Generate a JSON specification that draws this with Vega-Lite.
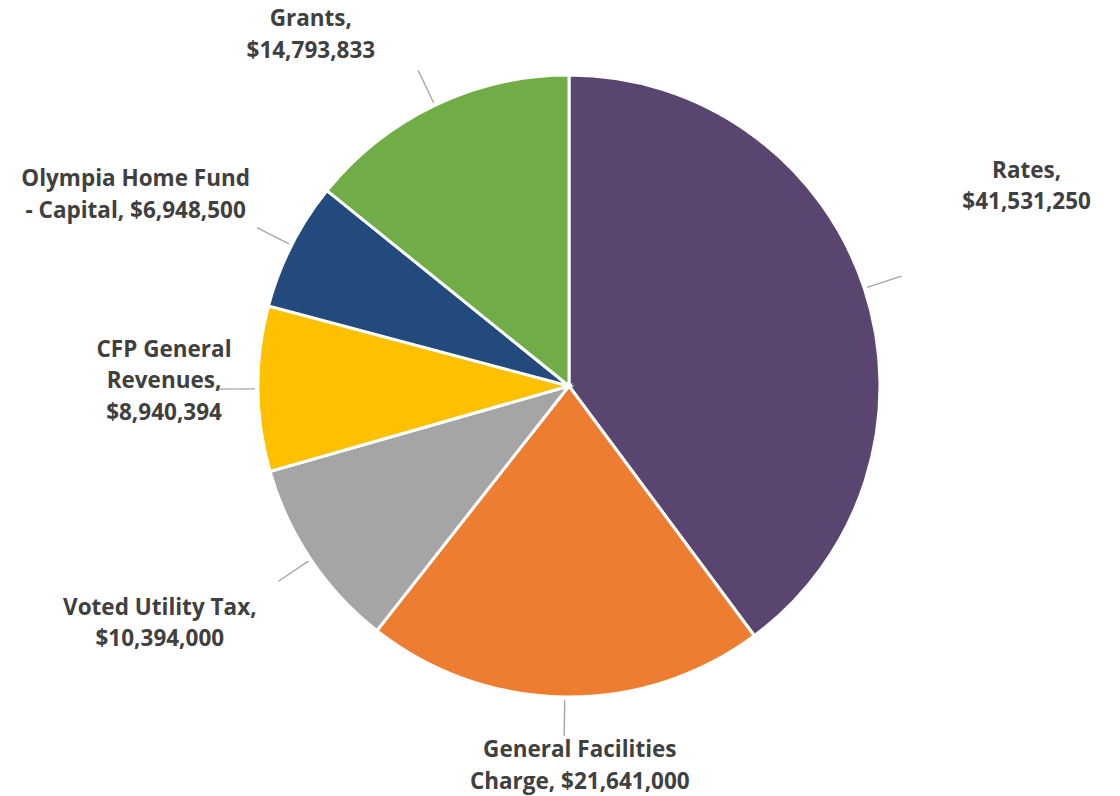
{
  "$schema": "https://vega.github.io/schema/vega-lite/v6.json",
  "autosize": {"type": "none"},
  "padding": {"left": 19, "top": 6, "right": 1, "bottom": 30},
  "width": 1100,
  "height": 760,
  "background": "white",
  "config": {"view": {"stroke": null}},
  "data": {
    "values": [
      {"cat": "Rates", "order": 1, "value": 41531250, "label": ["Rates,", "$41,531,250"]},
      {"cat": "General Facilities Charge", "order": 2, "value": 21641000, "label": ["General  Facilities", "Charge,  $21,641,000"]},
      {"cat": "Voted Utility Tax", "order": 3, "value": 10394000, "label": ["Voted Utility Tax,", "$10,394,000"]},
      {"cat": "CFP General Revenues", "order": 4, "value": 8940394, "label": ["CFP General", "Revenues,", "$8,940,394"]},
      {"cat": "Olympia Home Fund - Capital", "order": 5, "value": 6948500, "label": ["Olympia Home Fund", "- Capital,  $6,948,500"]},
      {"cat": "Grants", "order": 6, "value": 14793833, "label": ["Grants,", "$14,793,833"]}
    ]
  },
  "encoding": {
    "theta": {"field": "value", "type": "quantitative", "stack": true},
    "order": {"field": "order", "type": "quantitative"}
  },
  "layer": [
    {
      "mark": {"type": "arc", "radius": 311, "stroke": "white", "strokeWidth": 3},
      "encoding": {
        "color": {
          "field": "cat",
          "type": "nominal",
          "legend": null,
          "scale": {
            "domain": ["Rates", "General Facilities Charge", "Voted Utility Tax", "CFP General Revenues", "Olympia Home Fund - Capital", "Grants"],
            "range": ["#5A4571", "#ED7D31", "#A5A5A5", "#FFC000", "#234A7D", "#70AD47"]
          }
        }
      }
    },
    {
      "mark": {"type": "arc", "radius": 350, "radius2": 314, "padAngle": 3.14159, "filled": false, "stroke": "#A6A6A6", "strokeWidth": 1.4}
    },
    {
      "mark": {"type": "text", "radius": 482, "dy": -64, "font": "Open Sans", "fontSize": 22.5, "fontWeight": "bold", "fill": "#404040", "align": "center", "baseline": "middle", "lineHeight": 31.5},
      "encoding": {"text": {"condition": {"test": "datum.cat === 'Rates'", "field": "label", "type": "nominal"}, "value": ""}}
    },
    {
      "mark": {"type": "text", "radius": 380, "dx": 16, "dy": -15.5, "font": "Open Sans", "fontSize": 22.5, "fontWeight": "bold", "fill": "#404040", "align": "center", "baseline": "middle", "lineHeight": 31.5},
      "encoding": {"text": {"condition": {"test": "datum.cat === 'General Facilities Charge'", "field": "label", "type": "nominal"}, "value": ""}}
    },
    {
      "mark": {"type": "text", "radius": 493, "dy": -53, "font": "Open Sans", "fontSize": 22.5, "fontWeight": "bold", "fill": "#404040", "align": "center", "baseline": "middle", "lineHeight": 31.5},
      "encoding": {"text": {"condition": {"test": "datum.cat === 'Voted Utility Tax'", "field": "label", "type": "nominal"}, "value": ""}}
    },
    {
      "mark": {"type": "text", "radius": 405, "dy": -40, "font": "Open Sans", "fontSize": 22.5, "fontWeight": "bold", "fill": "#404040", "align": "center", "baseline": "middle", "lineHeight": 31.5},
      "encoding": {"text": {"condition": {"test": "datum.cat === 'CFP General Revenues'", "field": "label", "type": "nominal"}, "value": ""}}
    },
    {
      "mark": {"type": "text", "radius": 486, "dy": 13, "font": "Open Sans", "fontSize": 22.5, "fontWeight": "bold", "fill": "#404040", "align": "center", "baseline": "middle", "lineHeight": 31.5},
      "encoding": {"text": {"condition": {"test": "datum.cat === 'Olympia Home Fund - Capital'", "field": "label", "type": "nominal"}, "value": ""}}
    },
    {
      "mark": {"type": "text", "radius": 390, "dx": -90, "dy": -15, "font": "Open Sans", "fontSize": 22.5, "fontWeight": "bold", "fill": "#404040", "align": "center", "baseline": "middle", "lineHeight": 31.5},
      "encoding": {"text": {"condition": {"test": "datum.cat === 'Grants'", "field": "label", "type": "nominal"}, "value": ""}}
    }
  ]
}
